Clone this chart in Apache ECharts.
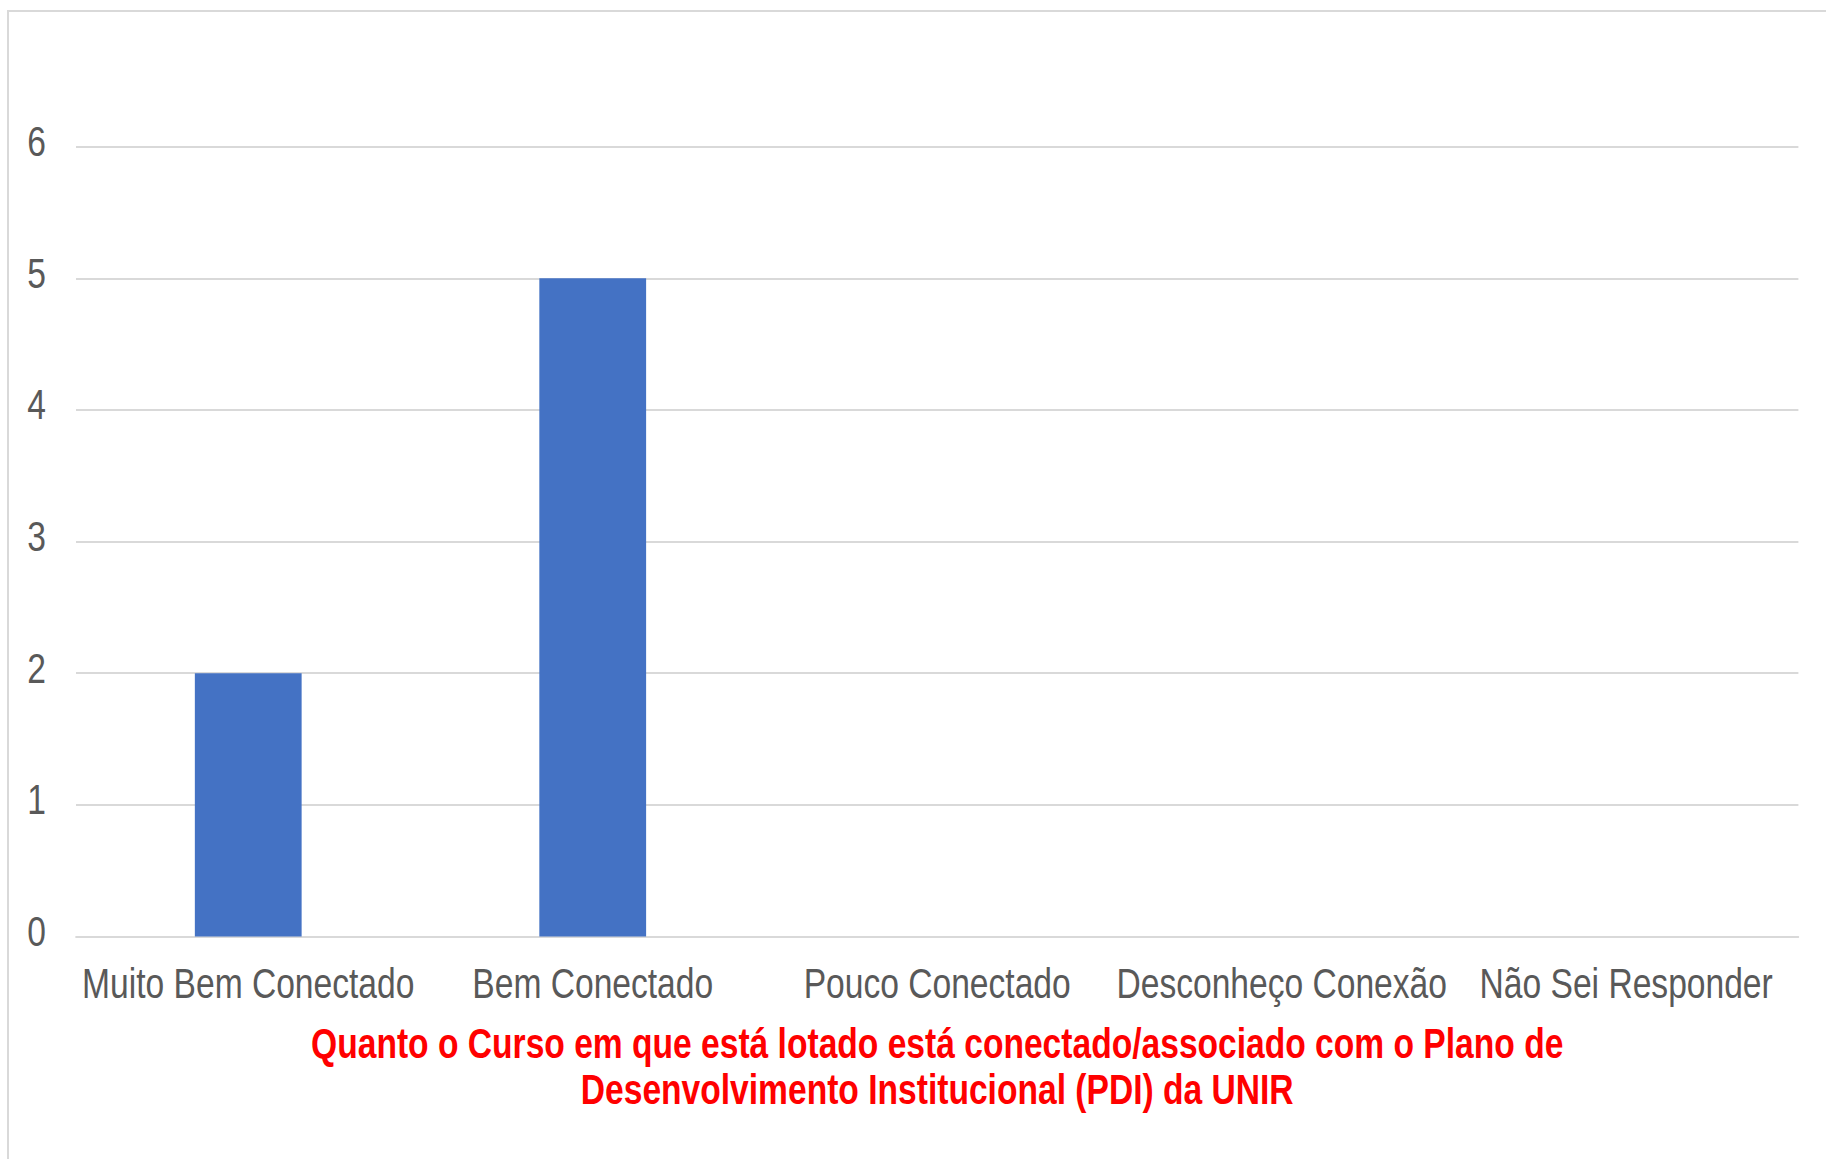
<!DOCTYPE html>
<html>
<head>
<meta charset="utf-8">
<script src="https://cdn.jsdelivr.net/npm/echarts@6/dist/echarts.min.js"></script>
<style>
html,body{margin:0;padding:0;background:#fff;overflow:hidden;}
#frame{position:absolute;left:7px;top:10px;width:1819px;height:1149px;border-top:2px solid #d9d9d9;border-left:2px solid #d9d9d9;box-sizing:border-box;}
#chart{position:absolute;left:0;top:0;width:2282.5px;height:1159px;transform:scaleX(0.8);transform-origin:0 0;}
</style>
</head>
<body>
<div id="frame"></div>
<div id="chart"></div>
<script>
const categories = ['Muito Bem Conectado', 'Bem Conectado', 'Pouco Conectado', 'Desconheço Conexão', 'Não Sei Responder'];
const values = [2, 5, 0, 0, 0];
const axisTitle = 'Quanto o Curso em que está lotado está conectado/associado com o Plano de\nDesenvolvimento Institucional (PDI) da UNIR';

const S = 0.8; // horizontal condensing of the whole drawing (narrow font look)
const FONT = '"Liberation Sans", Arial, sans-serif';
const chart = echarts.init(document.getElementById('chart'), null, { renderer: 'svg' });
chart.setOption({
  animation: false,
  backgroundColor: 'transparent',
  grid: { left: 76 / S, right: 28 / S, top: 146.7, bottom: 222.5, containLabel: false },
  xAxis: {
    type: 'category',
    data: categories,
    axisLine: { show: true, lineStyle: { color: '#d9d9d9', width: 2 } },
    axisTick: { show: false },
    axisLabel: { color: '#595959', fontFamily: FONT, fontSize: 42, margin: 26, interval: 0 },
    name: axisTitle,
    nameLocation: 'middle',
    nameGap: 84,
    nameTextStyle: { color: '#ff0000', fontFamily: FONT, fontSize: 42, fontWeight: 'bold', lineHeight: 46, align: 'center' }
  },
  yAxis: {
    type: 'value',
    min: 0, max: 6, interval: 1,
    axisLine: { show: false },
    axisTick: { show: false },
    splitLine: { lineStyle: { color: '#d9d9d9', width: 2 } },
    axisLabel: { color: '#595959', fontFamily: FONT, fontSize: 42, margin: 30 / S, verticalAlign: 'bottom', lineHeight: 10 }
  },
  series: [{
    type: 'bar',
    data: values,
    barWidth: '31%',
    itemStyle: { color: '#4472c4' }
  }]
});
</script>
</body>
</html>
